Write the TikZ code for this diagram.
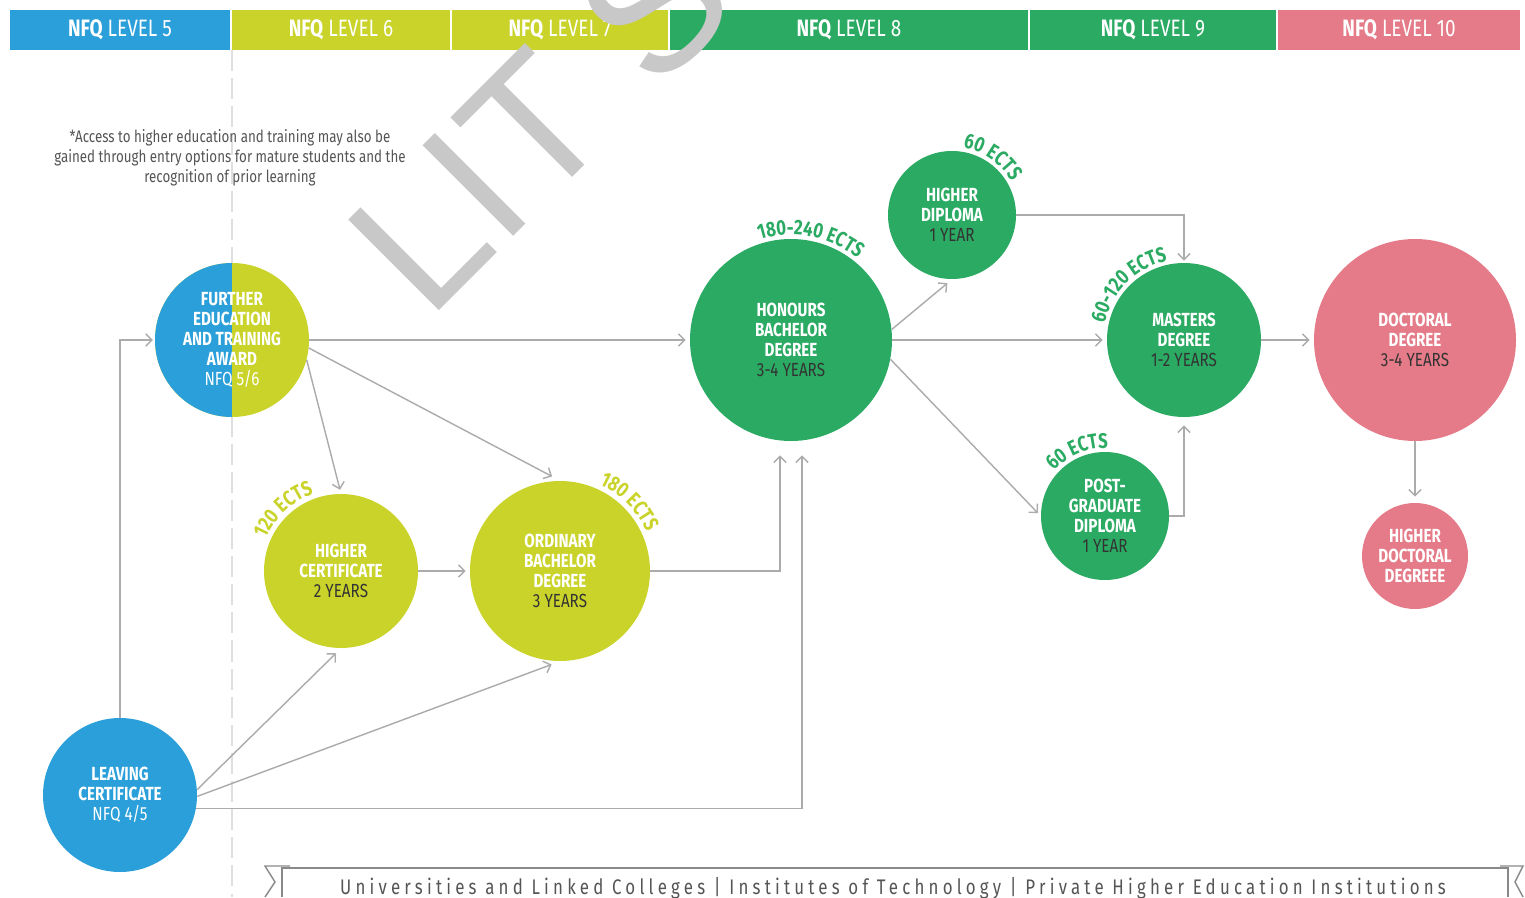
\documentclass[tikz,border=0pt]{standalone}
\usepackage{fontspec}
\setmainfont{Fira Sans}
\newfontfamily\cond{Fira Sans}[FakeStretch=0.8]
\newfontfamily\spaced{Fira Sans}[FakeStretch=0.8,LetterSpace=20]
\newfontfamily\wmark{Liberation Sans}
\usepackage{tikz}
\usetikzlibrary{arrows.meta,calc,decorations.text}
\definecolor{nfqblue}{HTML}{2B9FD9}
\definecolor{nfqlime}{HTML}{C9D32A}
\definecolor{nfqgreen}{HTML}{2AAA62}
\definecolor{nfqpink}{HTML}{E57B88}
\definecolor{linegray}{HTML}{ABABAB}
\definecolor{notegray}{HTML}{555555}
\definecolor{yearsgray}{HTML}{333333}
\definecolor{wmgray}{HTML}{C8C8C8}
\newcommand\yrs[1]{{\mdseries\color{yearsgray}#1}}
\newcommand\ectsfont{\cond\bfseries\fontsize{12}{12}\selectfont}
\tikzset{
  lvl/.style={minimum width=#1*0.2mm, minimum height=8mm, inner sep=0pt, text=white, font=\cond\fontsize{13.5}{15}\selectfont},
  circ/.style={circle, minimum size=#1*0.4mm, inner sep=0pt, align=center, text=white, font=\cond\bfseries\fontsize{10.8}{11.4}\selectfont},
  arr/.style={draw=linegray, line width=0.8pt, -{Straight Barb[length=3.5pt,width=7pt]}},
}

\begin{document}
\begin{tikzpicture}[x=0.2mm, y=0.2mm]
  \fill[white] (0,0) rectangle (1525,897);
  \useasboundingbox (0,0) rectangle (1525,897);
  \draw[gray!25, line width=0.8pt, dash pattern=on 12pt off 4pt] (232,847) -- (232,0);

  \node[lvl=220, fill=nfqblue] (l5) at (120,867) {{\bfseries NFQ} LEVEL 5};
  \node[lvl=218, fill=nfqlime] (l6) at (341,867) {{\bfseries NFQ} LEVEL 6};
  \node[lvl=216, fill=nfqlime] (l7) at (560,867) {{\bfseries NFQ} LEVEL 7};
  \node[lvl=358, fill=nfqgreen] (l8) at (849,867) {{\bfseries NFQ} LEVEL 8};
  \node[lvl=246, fill=nfqgreen] (l9) at (1153,867) {{\bfseries NFQ} LEVEL 9};
  \node[lvl=242, fill=nfqpink] (l10) at (1399,867) {{\bfseries NFQ} LEVEL 10};

  \node[text=notegray, align=center, font=\cond\fontsize{9.5}{11.4}\selectfont] (note) at (230,739)
    {*Access to higher education and training may also be\\gained through entry options for mature students and the\\recognition of prior learning};

  \node[circ=77, fill=nfqblue] (lc) at (120,102) {LEAVING\\CERTIFICATE\\{\mdseries NFQ 4/5}};
  \node[circ=77, fill=nfqlime, path picture={\fill[nfqblue] (path picture bounding box.south west) rectangle (path picture bounding box.north);}] (fet) at (232,557)
    {FURTHER\\EDUCATION\\AND TRAINING\\AWARD\\{\mdseries NFQ 5/6}};
  \node[circ=77, fill=nfqlime] (hc) at (341,326) {HIGHER\\CERTIFICATE\\\yrs{2 YEARS}};
  \node[circ=90, fill=nfqlime] (ob) at (560,326) {ORDINARY\\BACHELOR\\DEGREE\\\yrs{3 YEARS}};
  \node[circ=101, fill=nfqgreen] (hon) at (791,557) {HONOURS\\BACHELOR\\DEGREE\\\yrs{3-4 YEARS}};
  \node[circ=64, fill=nfqgreen] (hd) at (952,682) {HIGHER\\DIPLOMA\\\yrs{1 YEAR}};
  \node[circ=77, fill=nfqgreen] (ms) at (1184,557) {MASTERS\\DEGREE\\\yrs{1-2 YEARS}};
  \node[circ=64, fill=nfqgreen] (pgd) at (1105,381) {POST-\\GRADUATE\\DIPLOMA\\\yrs{1 YEAR}};
  \node[circ=101, fill=nfqpink] (doc) at (1415,557) {DOCTORAL\\DEGREE\\\yrs{3-4 YEARS}};
  \node[circ=53, fill=nfqpink] (hdd) at (1415,341) {HIGHER\\DOCTORAL\\DEGREEE};

  \path[decorate, decoration={text along path, text align=center, text color=nfqlime, text={|\ectsfont|120 ECTS}}]
    (hc.center) ++(193:82) arc[start angle=193, end angle=73, radius=82];
  \path[decorate, decoration={text along path, text align=center, text color=nfqlime, text={|\ectsfont|180 ECTS}}]
    (ob.center) ++(105:95) arc[start angle=105, end angle=-15, radius=95];
  \path[decorate, decoration={text along path, text align=center, text color=nfqgreen, text={|\ectsfont|180-240 ECTS}}]
    (hon.center) ++(139:105) arc[start angle=139, end angle=19, radius=105];
  \path[decorate, decoration={text along path, text align=center, text color=nfqgreen, text={|\ectsfont|60 ECTS}}]
    (hd.center) ++(115:68) arc[start angle=115, end angle=-5, radius=68];
  \path[decorate, decoration={text along path, text align=center, text color=nfqgreen, text={|\ectsfont|60-120 ECTS}}]
    (ms.center) ++(195:81) arc[start angle=195, end angle=75, radius=81];
  \path[decorate, decoration={text along path, text align=center, text color=nfqgreen, text={|\ectsfont|60 ECTS}}]
    (pgd.center) ++(173:68) arc[start angle=173, end angle=53, radius=68];

  \draw[arr, shorten >=1pt] (lc.north) |- (fet);
  \draw[arr, shorten >=1.4mm] (lc.4) -- (hc.south);
  \draw[arr, shorten >=1.8mm] (lc.-1) -- (ob.south);
  \draw[arr] (lc.-10) -| ($(hon.south)+(11,-14)$);
  \draw[arr, shorten >=0.8mm] (fet) -- (hon);
  \draw[arr, shorten >=0.8mm] (fet.-15) -- (hc.north);
  \draw[arr, shorten >=1.8mm] (fet.-6) -- (ob.north);
  \draw[arr, shorten >=0.8mm] (hc) -- (ob);
  \draw[arr] (ob.east) -| ($(hon.south)+(-11,-14)$);
  \draw[arr, shorten >=1.2mm] (hon.6) -- (hd.south);
  \draw[arr, shorten >=0.8mm] (hon) -- (ms);
  \draw[arr, shorten >=0.8mm] (hon.-11) -- (pgd.west);
  \draw[arr, shorten >=0.4mm] (hd.east) -| (ms.north);
  \draw[arr, shorten >=1.6mm] (pgd.east) -| (ms.south);
  \draw[arr, shorten >=0.8mm] (ms) -- (doc);
  \draw[arr, shorten >=1.2mm] (doc) -- (hdd);

  \draw[linegray!80!black, line width=1pt] (282,0) -- (282,29) -- (1508,29) -- (1508,0);
  \draw[linegray!80!black, line width=0.8pt] (290,31) -- (265,31) -- (275,15) -- (265,0);
  \draw[linegray!80!black, line width=0.8pt] (1500,31) -- (1523,31) -- (1515,15) -- (1523,0);
  \node[anchor=base, inner sep=0pt, text=notegray, font=\spaced\fontsize{12}{12}\selectfont] (inst) at (893,3)
    {Universities and Linked Colleges | Institutes of Technology | Private Higher Education Institutions};

  \begin{scope}
    \clip (0,0) rectangle (1525,897);
    \node[anchor=base west, rotate=45, inner sep=0pt, text=wmgray, font=\wmark\fontsize{106}{106}\selectfont] (wm) at (428,575) {LIT S};
  \end{scope}
\end{tikzpicture}
\end{document}
